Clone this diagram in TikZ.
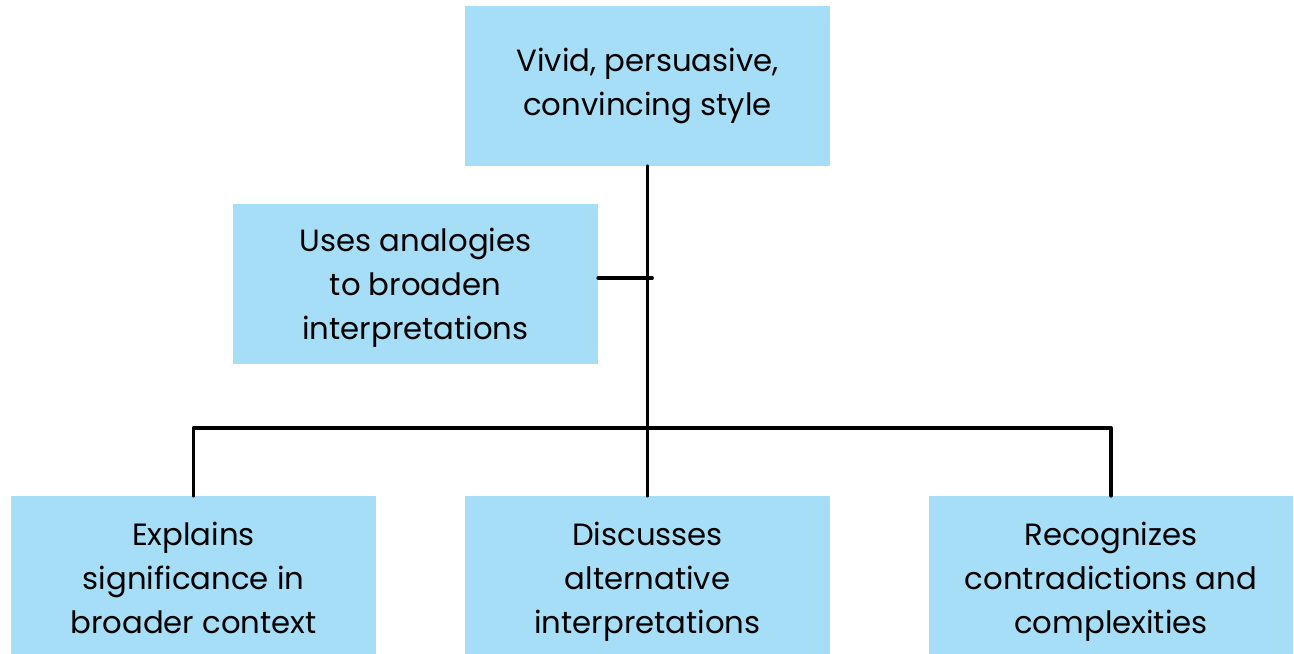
\documentclass[tikz,border=0pt]{standalone}
\usepackage{fontspec}
\setmainfont{Poppins}
\definecolor{boxblue}{HTML}{A6DEF7}
\tikzset{
  box/.style={fill=boxblue, minimum width=7.3cm, minimum height=3.2cm, inner sep=0pt, align=center, font=\fontsize{17.5}{25}\selectfont, text height=71pt, text depth=7.5pt},
  topbox/.style={box, text height=41.5pt},
  lowbox/.style={box, minimum height=3.28cm},
  link/.style={line width=2.2pt}
}
\begin{document}
\begin{tikzpicture}[x=0.02cm, y=-0.02cm, line join=round, line cap=round]
	\useasboundingbox (0,0) rectangle (1294,653);
	\node[topbox] (top) at (647.5,86) {Vivid, persuasive,\\convincing style};
	\node[box] (ana) at (415.5,284) {Uses analogies\\to broaden\\interpretations};
	\foreach \n/\x/\t in {expl/193.5/{Explains\\significance in\\broader context}, disc/647.5/{Discusses\\alternative\\interpretations}, reco/1111/{Recognizes\\contradictions and\\complexities}}
		\node[lowbox] (\n) at (\x,578) {\t};
	\path (648,428) coordinate (bar) (652,278) coordinate (ajoin);
	\draw[link] (top.south) -- (disc.north);
	\draw[link] (ajoin -| ana.east) -- (ajoin);
	\draw[link] (expl.north) -- (expl.north |- bar) -- (reco.north |- bar) -- (reco.north);
\end{tikzpicture}
\end{document}
